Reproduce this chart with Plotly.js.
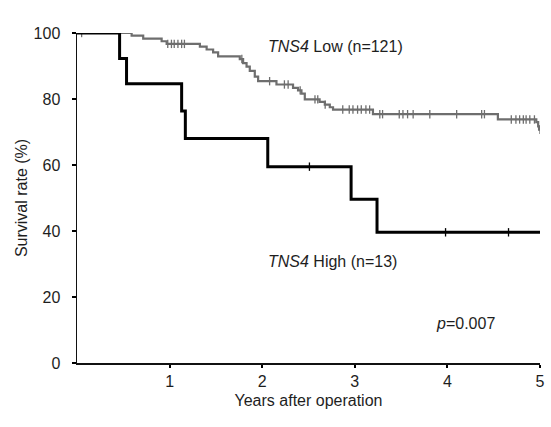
<!DOCTYPE html>
<html>
<head>
<meta charset="utf-8">
<script src="https://cdn.plot.ly/plotly-3.0.1.min.js"></script>
<style>html,body{margin:0;padding:0;background:#fff;}#chart{width:551px;height:427px;}</style>
</head>
<body>
<div id="chart"></div>
<script>
// TNS4 Low (n=121): step times (years) and survival (%)
var lowTimes = [0, 0.59, 0.715, 0.914, 0.968, 1.327, 1.40, 1.47, 1.524, 1.758, 1.794, 1.831, 1.866, 1.92, 1.956, 2.154, 2.333, 2.387, 2.424, 2.46, 2.62, 2.676, 2.73, 2.765, 3.196, 4.545, 4.96, 4.98, 4.99, 5.0];
var lowSurv  = [100, 99.2, 98.3, 97.5, 96.7, 95.9, 95.0, 94.1, 92.9, 92.1, 90.9, 89.8, 88.5, 86.8, 85.4, 84.4, 83.4, 82.6, 81.6, 79.9, 79.1, 78.3, 77.5, 76.8, 75.4, 73.8, 73.0, 71.7, 70.7, 70.7];
var lowCensor = [0.05, 0.98, 1.02, 1.05, 1.09, 1.13, 1.16, 1.78, 2.08, 2.24, 2.28, 2.41, 2.57, 2.60, 2.68, 2.87, 2.94, 2.98, 3.03, 3.07, 3.12, 3.16, 3.27, 3.30, 3.48, 3.52, 3.57, 3.63, 3.81, 4.10, 4.37, 4.40, 4.69, 4.74, 4.78, 4.82, 4.85, 4.89, 4.94, 5.0];

// TNS4 High (n=13)
var highTimes = [0, 0.46, 0.535, 1.13, 1.17, 2.06, 2.96, 3.24, 5.0];
var highSurv  = [100, 92.3, 84.6, 76.4, 68.0, 59.5, 49.6, 39.6, 39.6];
var highCensor = [2.51, 3.98, 4.66];

var xTicks = [1, 2, 3, 4, 5];
var yTicks = [0, 20, 40, 60, 80, 100];
var labels = {
  low: '<i>TNS4</i> Low (n=121)',
  high: '<i>TNS4</i> High (n=13)',
  p: '<i>p</i>=0.007',
  xTitle: 'Years after operation',
  yTitle: 'Survival rate (%)'
};

function stepAt(times, surv, t) {
  var v = surv[0];
  for (var i = 0; i < times.length; i++) { if (times[i] <= t) v = surv[i]; }
  return v;
}

var gray = '#6e6e6e';
var font = 'Arial, "Liberation Sans", sans-serif';
var txt = '#1e1e1e';

var traces = [
  {x: lowTimes, y: lowSurv, mode: 'lines', line: {shape: 'hv', color: gray, width: 2.2}, hoverinfo: 'skip'},
  {x: lowCensor, y: lowCensor.map(function(t){return stepAt(lowTimes, lowSurv, t);}), mode: 'markers',
   marker: {symbol: 'line-ns', size: 6, line: {color: gray, width: 1.3}}, hoverinfo: 'skip'},
  {x: highTimes, y: highSurv, mode: 'lines', line: {shape: 'hv', color: '#000', width: 3}, hoverinfo: 'skip'},
  {x: highCensor, y: highCensor.map(function(t){return stepAt(highTimes, highSurv, t);}), mode: 'markers',
   marker: {symbol: 'line-ns', size: 6, line: {color: '#000', width: 1.3}}, hoverinfo: 'skip'}
];

var layout = {
  width: 551, height: 427,
  margin: {l: 77, r: 11, t: 33, b: 64},
  showlegend: false,
  paper_bgcolor: '#fff', plot_bgcolor: '#fff',
  font: {family: font, size: 16, color: txt},
  xaxis: {
    range: [0, 5], tickvals: xTicks, ticks: 'outside', ticklen: 3, tickwidth: 2, tickcolor: '#000',
    showline: true, linecolor: '#111', linewidth: 2, showgrid: false, zeroline: false,
    tickfont: {family: font, size: 16, color: txt}, ticklabelstandoff: 0,
    title: {text: labels.xTitle, font: {family: font, size: 16, color: txt}, standoff: 6}
  },
  yaxis: {
    range: [0, 100], tickvals: yTicks, ticks: 'outside', ticklen: 4, tickwidth: 2, tickcolor: '#000',
    showline: true, linecolor: '#111', linewidth: 1.5, showgrid: false, zeroline: false,
    tickfont: {family: font, size: 16, color: txt}, ticklabelstandoff: 8,
    title: {text: labels.yTitle, font: {family: font, size: 16, color: txt}, standoff: 2}
  },
  annotations: [
    {x: 2.04, y: 95.8, xref: 'x', yref: 'y', text: labels.low, showarrow: false, xanchor: 'left', yanchor: 'middle', font: {family: font, size: 16, color: txt}},
    {x: 2.04, y: 30.7, xref: 'x', yref: 'y', text: labels.high, showarrow: false, xanchor: 'left', yanchor: 'middle', font: {family: font, size: 16, color: txt}},
    {x: 3.85, y: 12.0, xref: 'x', yref: 'y', text: labels.p, showarrow: false, xanchor: 'left', yanchor: 'middle', font: {family: font, size: 16, color: txt}}
  ]
};

Plotly.newPlot('chart', traces, layout, {staticPlot: true, displayModeBar: false});
</script>
</body>
</html>
